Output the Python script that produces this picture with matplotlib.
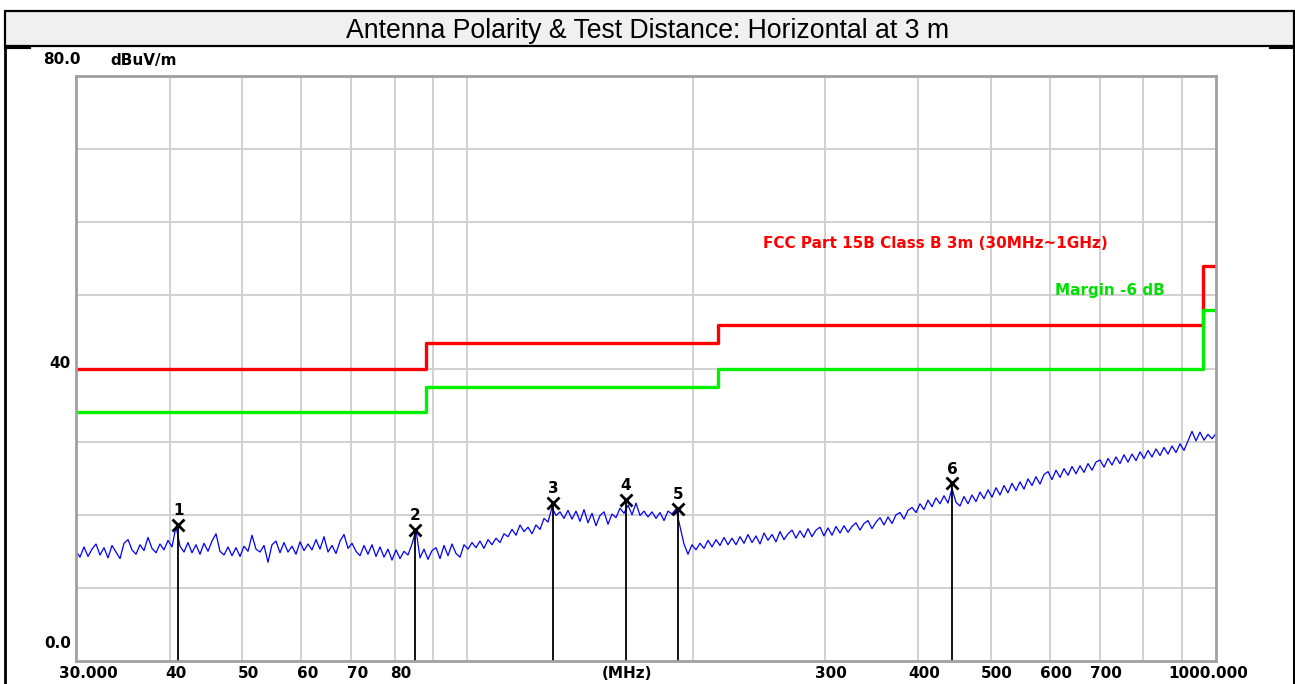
import numpy as np
import matplotlib.pyplot as plt
from matplotlib.patches import Rectangle
from matplotlib.lines import Line2D
from matplotlib.transforms import offset_copy

W, H = 1295, 684

# limit line (FCC Part 15B Class B 3m) and the -6 dB margin line
limit_freq = [30, 88, 216, 960, 1000]
limit_level = [40, 43.5, 46, 54, 54]
margin_level = [34, 37.5, 40, 48, 48]

# measured trace, sweep from 30 MHz to 1000 MHz (log spaced points)
trace_start, trace_stop = 30, 1000
trace_level = [
    15.0, 14.2, 15.6, 14.3, 15.3, 16.0, 14.5, 15.5, 14.1, 15.8, 14.9, 14.0, 16.1, 16.6, 15.2,
    14.6, 15.9, 15.1, 16.9, 15.4, 14.8, 16.0, 15.2, 16.5, 15.6, 18.4, 15.7, 14.9, 16.2, 14.8,
    15.9, 14.6, 16.1, 15.0, 16.4, 17.4, 15.0, 14.5, 15.6, 14.4, 15.5, 14.3, 15.7, 15.0, 17.2,
    15.3, 14.9, 15.8, 13.5, 15.9, 16.4, 14.8, 16.2, 14.9, 15.7, 14.6, 16.3, 15.1, 16.0, 15.2,
    16.6, 15.3, 17.0, 14.9, 15.8, 14.7, 16.4, 17.3, 15.4, 16.1, 15.0, 14.4, 15.8, 14.6, 15.9,
    14.3, 15.6, 14.2, 15.3, 13.8, 15.2, 14.0, 15.0, 14.5, 16.0, 17.9, 14.1, 15.3, 13.9, 15.1,
    15.5, 14.0, 15.8, 14.4, 16.0, 14.7, 14.2, 15.9, 15.3, 16.2, 15.5, 16.4, 15.4, 16.6, 15.9,
    16.8, 16.2, 17.4, 17.0, 18.0, 17.2, 18.6, 17.7, 18.3, 17.4, 18.6, 18.0, 19.5, 19.0, 21.0,
    19.9, 20.4, 19.5, 20.6, 19.4, 20.5, 19.1, 20.7, 18.9, 20.2, 18.5, 19.9, 20.4, 18.7, 20.1,
    19.6, 20.9, 20.2, 21.3, 20.0, 21.6, 19.9, 20.5, 19.7, 20.4, 19.5, 20.3, 19.2, 20.5, 20.1,
    20.8, 18.4, 16.0, 14.6, 15.9, 15.2, 16.1, 15.4, 16.5, 15.6, 16.6, 15.8, 16.9, 15.9, 16.8,
    15.9, 17.0, 16.1, 17.3, 16.2, 17.1, 16.0, 17.5, 16.5, 17.3, 16.3, 17.7, 16.6, 17.4, 17.9,
    16.8, 17.8, 16.9, 18.1, 17.0, 17.9, 18.3, 17.1, 18.2, 17.2, 18.4, 17.5, 18.5, 17.6, 18.4,
    18.9, 17.9, 18.8, 19.2, 18.1, 19.0, 19.6, 18.6, 19.7, 18.8, 20.0, 20.3, 19.4, 20.6, 21.0,
    20.3, 21.5, 20.7, 22.0, 21.1, 22.3, 21.5, 22.6, 21.6, 23.6, 21.7, 21.2, 22.5, 21.5, 22.7,
    21.8, 23.1, 22.2, 23.4, 22.4, 23.7, 22.7, 24.0, 23.0, 24.3, 23.3, 24.5, 23.5, 24.9, 24.0,
    25.2, 24.2, 25.5, 25.9, 24.8, 26.1, 25.1, 26.3, 25.4, 26.6, 25.6, 26.7, 25.8, 27.0, 26.1,
    27.2, 27.5, 26.5, 27.7, 26.8, 27.9, 27.0, 28.2, 27.2, 28.3, 27.4, 28.6, 27.7, 28.8, 27.9,
    29.0, 28.1, 29.2, 28.3, 29.4, 28.5, 29.7, 28.8, 30.1, 31.4, 30.1, 31.3, 30.2, 31.0, 30.4, 31.1,
]

# marker points
marker_no = ['1', '2', '3', '4', '5', '6']
marker_freq = [41.1, 85.1, 130.1, 162.8, 191.1, 444.0]
marker_level = [18.6, 17.9, 21.6, 22.0, 20.8, 24.3]

xgrid = [40, 50, 60, 70, 80, 90, 100, 200, 300, 400, 500, 600, 700, 800, 900]
xlabels = ['30.000', '40', '50', '60', '70', '80', '300', '400', '500', '600', '700', '1000.000']
xlabel_pos = [30, 40, 50, 60, 70, 80, 300, 400, 500, 600, 700, 1000]


def fx(x):
    return x / W


def fy(y):
    return 1 - y / H


fig = plt.figure(figsize=(W / 100, H / 100), dpi=100)

# outer frame and title band
fig.add_artist(Rectangle((fx(5), fy(46)), fx(1289), 35 / H, facecolor='#f0f0f0',
                         edgecolor='black', lw=1.6, transform=fig.transFigure))
fig.add_artist(Line2D([fx(5), fx(5)], [fy(46), 0], color='black', lw=2))
fig.add_artist(Line2D([fx(1294), fx(1294)], [fy(46), 0], color='black', lw=1.5))
fig.add_artist(Line2D([fx(5), fx(30)], [fy(47.5), fy(47.5)], color='black', lw=1.5))
fig.add_artist(Line2D([fx(1270), fx(1294)], [fy(47.5), fy(47.5)], color='black', lw=1.5))
fig.text(0.5, fy(31), 'Antenna Polarity & Test Distance: Horizontal at 3 m',
         ha='center', va='center', fontsize=19.2, family='Liberation Sans')

ax = fig.add_axes([fx(76), fy(661), fx(1216 - 76), (661 - 76) / H])
ax.set_xscale('log')
ax.set_xlim(30, 1000)
ax.set_ylim(0, 80)

for g in xgrid:
    ax.axvline(g, color='#d0d0d0', lw=1.4, zorder=0)
for g in range(10, 80, 10):
    ax.axhline(g, color='#d0d0d0', lw=1.4, zorder=0)

ax.step(limit_freq, limit_level, where='post', color='#ff0000', lw=2.4)
ax.step(limit_freq, margin_level, where='post', color='#00f000', lw=2.4)

freq = np.geomspace(trace_start, trace_stop, len(trace_level))
ax.plot(freq, trace_level, color='#0000ff', lw=0.9)

for n, f, lv in zip(marker_no, marker_freq, marker_level):
    ax.plot([f, f], [0, lv], color='black', lw=1.3)
    ax.plot(f, lv, marker='x', color='black', ms=8.5, mew=2)
    ax.annotate(n, (f, lv), xytext=(0, 7), textcoords='offset points',
                ha='center', va='baseline', fontsize=11, fontweight='bold')

ax.text((763 - 76) / (1216 - 76), (661 - 244) / 585, 'FCC Part 15B Class B 3m (30MHz~1GHz)',
        transform=ax.transAxes, color='#ff0000', fontsize=11, fontweight='bold',
        ha='left', va='center')
ax.text((1055 - 76) / (1216 - 76), (661 - 291) / 585, 'Margin -6 dB',
        transform=ax.transAxes, color='#00e000', fontsize=11, fontweight='bold',
        ha='left', va='center')

ax.set_xticks([])
ax.set_yticks([])
ax.minorticks_off()
for s in ax.spines.values():
    s.set_color('#a0a0a0')
    s.set_linewidth(2)

# axis labels drawn like the analyser software
ylab_y = (661 - 673) / 585
for lab, p in zip(xlabels, xlabel_pos):
    if p == 30:
        dx = 12
    elif p == 1000:
        dx = -8
    else:
        dx = 6
    tr = offset_copy(ax.get_xaxis_transform(), fig=fig, x=dx, y=0, units='dots')
    ax.text(p, ylab_y, lab, transform=tr, ha='center', va='center',
            fontsize=11, fontweight='bold', clip_on=False)
fig.text(fx(627), fy(673), '(MHz)', ha='center', va='center', fontsize=11, fontweight='bold')
fig.text(fx(43), fy(60), '80.0', ha='left', va='center', fontsize=11, fontweight='bold')
fig.text(fx(110), fy(60), 'dBuV/m', ha='left', va='center', fontsize=11, fontweight='bold')
fig.text(fx(71), fy(363), '40', ha='right', va='center', fontsize=11, fontweight='bold')
fig.text(fx(71), fy(643), '0.0', ha='right', va='center', fontsize=11, fontweight='bold')

plt.savefig('out.png', dpi=100)
